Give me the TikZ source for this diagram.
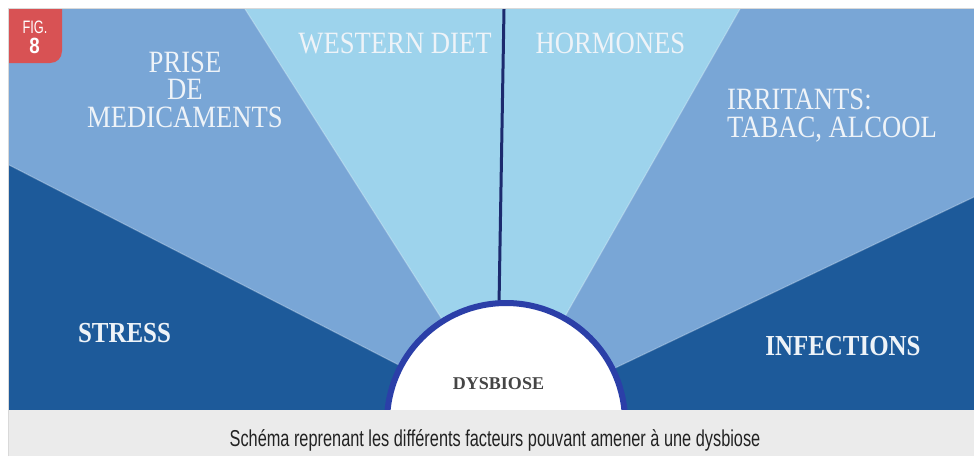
\documentclass[tikz,border=0pt]{standalone}
\usepackage{fontspec}
\setmainfont{Liberation Serif}
\newfontfamily\labfont[FakeStretch=0.86]{Liberation Serif}
\newfontfamily\capfont[FakeStretch=0.71]{Liberation Sans}
\newfontfamily\numfont[FakeStretch=0.85]{Liberation Sans}
\definecolor{darkb}{HTML}{1D5A9A}
\definecolor{medb}{HTML}{79A6D6}
\definecolor{lightb}{HTML}{9DD3EC}
\definecolor{ringb}{HTML}{2B3FA8}
\definecolor{navyline}{HTML}{1C2A6E}
\definecolor{badgered}{HTML}{D85254}
\definecolor{capbg}{HTML}{EBEBEB}
\definecolor{labtxt}{HTML}{EEF3F8}
\definecolor{dystxt}{HTML}{454545}
\definecolor{captxt}{HTML}{222222}
\begin{document}
\begin{tikzpicture}[x=1pt,y=-1pt,
  lab/.style={text=labtxt, font=\labfont\fontsize{31}{27.5}\selectfont, inner sep=0pt, anchor=base},
  labbold/.style={lab, font=\labfont\bfseries\fontsize{29}{27.5}\selectfont},
  raylight/.style={white, opacity=0.25, line width=1.2pt}]
\useasboundingbox (0,0) rectangle (974,456);
\fill[white] (0,0) rectangle (974,456);
\coordinate (O) at (506,420);
\coordinate (rA) at (9,165);
\coordinate (rB) at (245,9);
\coordinate (rC) at (740,9);
\coordinate (rD) at (974,197);
\coordinate (vtop) at (504,9);
\coordinate (vbot) at (499,305);
\begin{scope}
  \clip (9,9) rectangle (974,410);
  \fill[darkb] (9,9) rectangle (974,410);
  \fill[medb] (O) -- (rA) -- (9,9) -- (974,9) -- (rD) -- cycle;
  \fill[lightb] (O) -- (rB) -- (rC) -- cycle;
  \draw[raylight] (O) -- (rA);
  \draw[raylight] (O) -- (rB);
  \draw[raylight] (O) -- (rC);
  \draw[raylight] (O) -- (rD);
  \draw[navyline, line width=3pt] (vtop) -- (vbot);
  \node[circle, draw=ringb, line width=6pt, fill=white, minimum size=238pt, inner sep=0pt] (ring) at (506,422) {};
\end{scope}
% caption band
\fill[capbg] (9,410) rectangle (974,456);
\draw[black!15, line width=1pt] (8.5,456) -- (8.5,8.5) -- (974,8.5);
% badge
\fill[badgered] (9,9) -- (62,9) -- (62,51) .. controls (62,58) and (57,63) .. (50,63) -- (9,63) -- cycle;
\node[anchor=base, text=white, inner sep=0pt, font=\capfont\fontsize{18}{18}\selectfont] (figlab) at (35,33) {FIG.};
\node[anchor=base, text=white, inner sep=0pt, font=\numfont\bfseries\fontsize{22}{22}\selectfont] (fignum) at (34.5,53) {8};
% labels
\node[lab, align=center] (prise) at (185,127) {PRISE\\DE\\MEDICAMENTS};
\node[lab] (western) at (395,53) {WESTERN DIET};
\node[lab] (hormones) at (610.5,53) {HORMONES};
\node[lab, align=left, anchor=base west] (irritants) at (727,137) {IRRITANTS:\\TABAC, ALCOOL};
\node[labbold] (stress) at (124.5,342) {STRESS};
\node[labbold] (infections) at (843,355) {INFECTIONS};
\node[anchor=base, inner sep=0pt, text=dystxt, font=\bfseries\fontsize{18}{18}\selectfont] (dysbiose) at (498.5,389) {DYSBIOSE};
\node[anchor=base, inner sep=0pt, text=captxt, font=\capfont\fontsize{23}{23}\selectfont] (caption) at (495,446) {Schéma reprenant les différents facteurs pouvant amener à une dysbiose};
\end{tikzpicture}
\end{document}
